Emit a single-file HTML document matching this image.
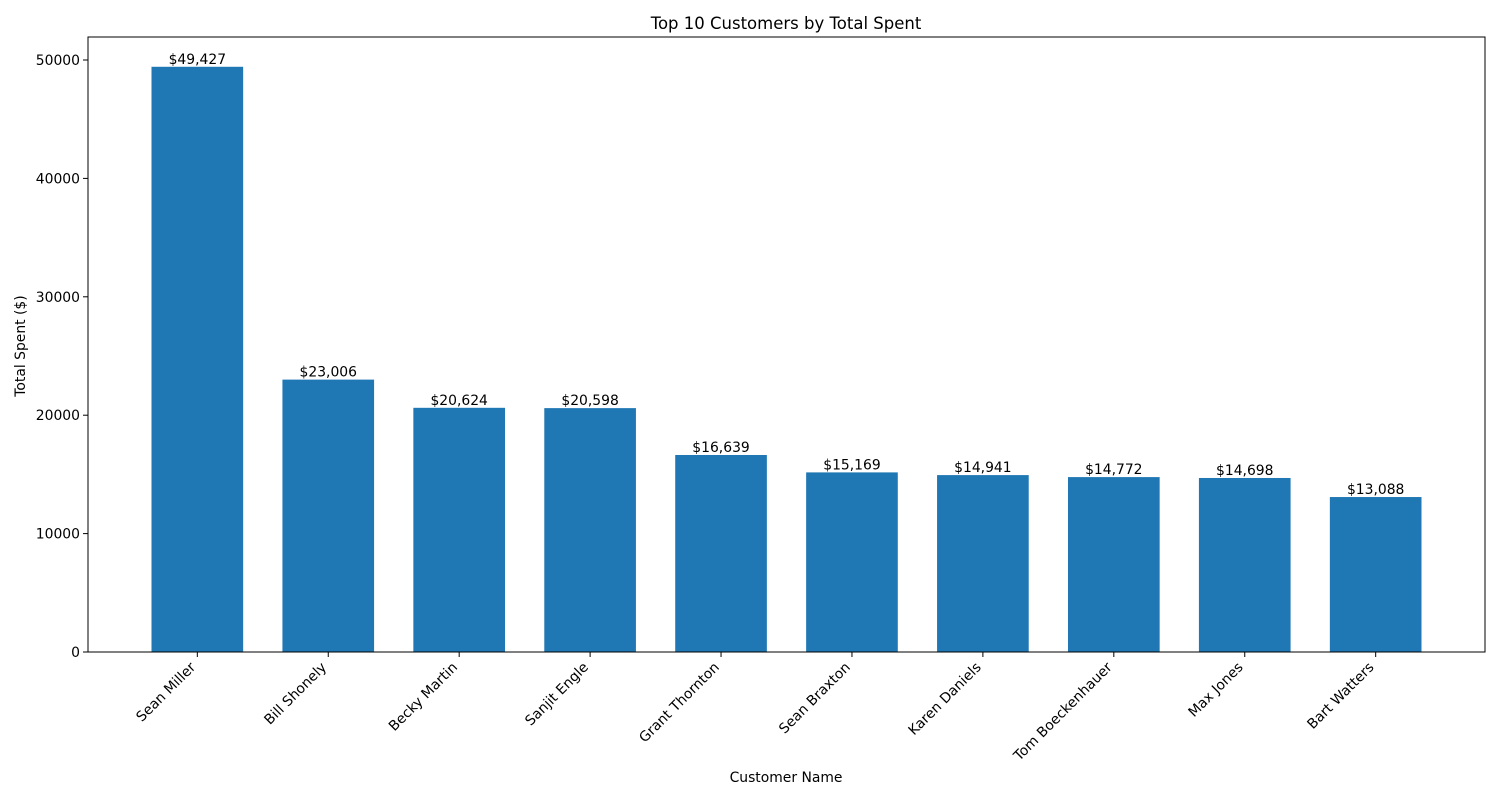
<!DOCTYPE html>
<html><head><meta charset="utf-8"><style>
body{margin:0;background:#fff}
svg text{font-family:"DejaVu Sans","Liberation Sans",sans-serif;fill:#000}
</style></head><body>
<svg id="chart" width="1500" height="800" xmlns="http://www.w3.org/2000/svg">
<rect width="1500" height="800" fill="#fff"/>
<text x="786" y="29" font-size="16.5" text-anchor="middle">Top 10 Customers by Total Spent</text>
<g id="plot"></g>
<rect x="88" y="37" width="1397" height="615" fill="none" stroke="#000" stroke-width="1"/>
<text x="786" y="782" font-size="13.9" text-anchor="middle">Customer Name</text>
<text transform="translate(25,346) rotate(-90)" font-size="13.9" text-anchor="middle">Total Spent ($)</text>
</svg>
<script>
const categories=["Sean Miller","Bill Shonely","Becky Martin","Sanjit Engle","Grant Thornton","Sean Braxton","Karen Daniels","Tom Boeckenhauer","Max Jones","Bart Watters"];
const values=[49427,23006,20624,20598,16639,15169,14941,14772,14698,13088];
const yTicks=[0,10000,20000,30000,40000,50000];
const NS="http://www.w3.org/2000/svg";
const g=document.getElementById('plot');
const L=88,R=1485,T=37,B=652;
const xmin=-0.835,xmax=categories.length-1+0.835;
function x(i){return L+(i-xmin)/(xmax-xmin)*(R-L);}
function y(v){return B-v*(592/50000);}
function mk(tag,attrs){const e=document.createElementNS(NS,tag);for(const k in attrs)e.setAttribute(k,attrs[k]);g.appendChild(e);return e;}
const bw=0.7*(R-L)/(xmax-xmin);
values.forEach((v,i)=>{
  const r=mk('rect',{x:x(i)-bw/2,y:y(v),width:bw,height:B-y(v),fill:'#1f77b4'});
  
  
  const t=mk('text',{x:x(i),y:y(v)-3,'font-size':13.9,'text-anchor':'middle'});
  t.textContent='$'+v.toLocaleString('en-US');
  
  
  const tk=mk('line',{x1:x(i),x2:x(i),y1:B,y2:B+5,stroke:'#000'});
  
  
  const lb=mk('text',{transform:`translate(${x(i)-1},${B+16}) rotate(-45)`,'font-size':13.9,'text-anchor':'end'});
  lb.textContent=categories[i];
  
  
});
yTicks.forEach(v=>{
  const tk=mk('line',{x1:L-5,x2:L,y1:y(v),y2:y(v),stroke:'#000'});
  
  
  const t=mk('text',{x:L-8,y:y(v)+5,'font-size':13.9,'text-anchor':'end'});
  t.textContent=v;
  
  
});
</script>
</body></html>
